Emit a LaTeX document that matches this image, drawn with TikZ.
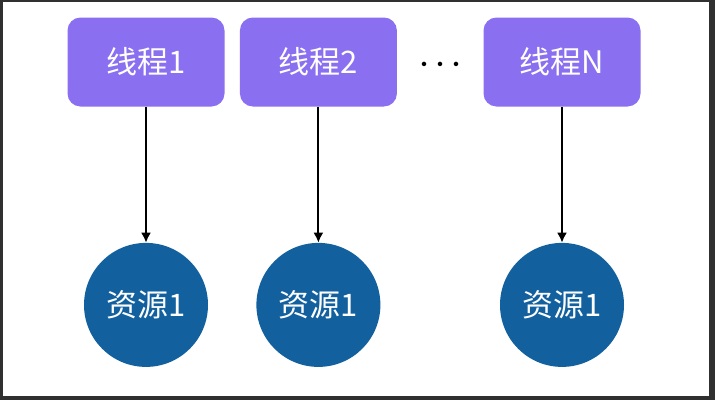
\documentclass[tikz,border=0pt]{standalone}
\usepackage{fontspec}
\newfontfamily\cjk{Noto Sans CJK SC}
\usetikzlibrary{arrows.meta, positioning}
\definecolor{threadpurple}{HTML}{8A6FF0}
\definecolor{resblue}{HTML}{13609F}
\definecolor{framegray}{HTML}{303030}

\begin{document}
\begin{tikzpicture}[x=1pt, y=-1pt, node distance=136pt, >={Latex[length=10pt,width=10pt]},
    thread/.style={rectangle, fill=threadpurple, text=white, rounded corners=13pt, minimum width=157pt, minimum height=89pt, font=\cjk\fontsize{31}{33}\selectfont},
    res/.style={circle, fill=resblue, text=white, minimum size=124pt, inner sep=0pt, font=\cjk\fontsize{31}{33}\selectfont},
    line/.style={draw, ->, line width=2pt}]

    % frame
    \fill[framegray] (0,0) rectangle (715,400);
    \fill[white] (3,2) rectangle (709,396);
    \useasboundingbox (0,0) rectangle (715,400);

    \node [thread] (t1) at (146,62) {线程1};
    \node [thread, right=15pt of t1] (t2) {线程2};
    \node [thread] (tn) at (562,62) {线程N};
    \node [font=\cjk\bfseries\fontsize{16}{18}\selectfont] (dots) at (440,66) {···};

    \node [res, below=of t1] (r1) {资源1};
    \node [res, below=of t2] (r2) {资源1};
    \node [res, below=of tn] (rn) {资源1};

    \path [line] (t1) -- (r1);
    \path [line] (t2) -- (r2);
    \path [line] (tn) -- (rn);
\end{tikzpicture}
\end{document}
